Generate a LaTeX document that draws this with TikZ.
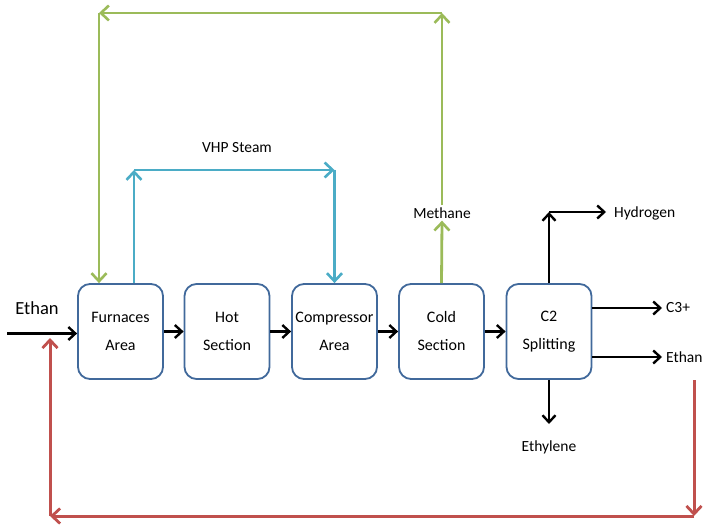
\documentclass[tikz,border=0pt]{standalone}
\usepackage{fontspec}
\setmainfont{Carlito}
\usetikzlibrary{arrows.meta}
\definecolor{boxblue}{RGB}{65,105,155}
\definecolor{lgreen}{RGB}{155,187,89}
\definecolor{laqua}{RGB}{75,172,198}
\definecolor{lred}{RGB}{192,80,77}
\begin{document}
\begin{tikzpicture}[x=1pt,y=-1pt,
  box/.style={draw=boxblue, fill=white, line width=1.8pt, rounded corners=12pt,
    minimum width=85pt, minimum height=95pt, align=center, inner sep=0pt,
    font=\fontsize{16}{28}\selectfont},
  lbl/.style={inner sep=2pt, font=\fontsize{15.5}{18}\selectfont},
  flow/.style={line width=2.6pt, black, -{Straight Barb[length=7pt,width=13pt,line width=2.4pt]}},
  gflow/.style={line width=2.8pt, lgreen, -{Straight Barb[length=8pt,width=15pt,line width=2.6pt]}},
  bflow/.style={line width=2.8pt, laqua, -{Straight Barb[length=8pt,width=15pt,line width=2.6pt]}},
  rflow/.style={line width=3pt, lred, -{Straight Barb[length=8pt,width=15pt,line width=2.8pt]}}
]
\useasboundingbox (0,0) rectangle (704,529);

% boxes
\node[box] (F)  at (120.5,331.5) {Furnaces\\Area};
\node[box] (H)  at (227,331.5) {Hot\\Section};
\node[box] (C)  at (334.5,331.5) {Compressor\\Area};
\node[box] (CS) at (441.5,331.5) {Cold\\Section};
\node[box] (S)  at (549,331.5) {C2\\Splitting};

% labels
\node[font=\fontsize{18.5}{20}\selectfont, inner sep=0pt] (ethin) at (37,308) {Ethan};
\node[lbl] (vhp) at (237,148) {VHP Steam};
\node[lbl] (meth) at (442,213) {Methane};
\node[lbl, anchor=west] (hyd) at (612,213) {Hydrogen};
\node[lbl, anchor=west] (c3) at (664,308) {C3+};
\node[lbl, anchor=west] (ethout) at (664,357) {Ethan};
\node[lbl] (ethy) at (549,447) {Ethylene};

% coordinates
\coordinate (in0) at (7,333.5);
\coordinate (g1) at (442,13);
\coordinate (g2) at (99,13);
\coordinate (b1) at (134,170);
\coordinate (b2) at (334.5,170);
\coordinate (h1) at (549,212);
\coordinate (h2) at (606,212);
\coordinate (c3e) at (662,308);
\coordinate (ete) at (662,357);
\coordinate (ety) at (549,424);
\coordinate (r1) at (694,380);
\coordinate (r2) at (694,516);
\coordinate (r3) at (50,516);
\coordinate (r4) at (50,338);

% main flow
\draw[flow] (in0) -- (in0 -| F.west);
\draw[flow] (F) -- (H);
\draw[flow] (H) -- (C);
\draw[flow] (C) -- (CS);
\draw[flow] (CS) -- (S);

% outputs
\draw[flow] (S.north) -- (h1);
\draw[flow] (h1) -- (h2);
\draw[flow] (c3e -| S.east) -- (c3e);
\draw[flow] (ete -| S.east) -- (ete);
\draw[flow] (S.south) -- (ety);

% VHP steam
\draw[bflow] (b1 |- F.north) -- (b1);
\draw[bflow] (b1) -- (b2);
\draw[bflow] (b2) -- (C.north);

% methane recycle
\draw[gflow] (CS.north) -- (meth.south);
\draw[gflow] (meth.north) -- (g1);
\draw[gflow] (g1) -- (g2);
\draw[gflow] (g2) -- (g2 |- F.north);

% ethane recycle
\draw[rflow] (r1) -- (r2);
\draw[rflow] (r2) -- (r3);
\draw[rflow] (r3) -- (r4);
\end{tikzpicture}
\end{document}
